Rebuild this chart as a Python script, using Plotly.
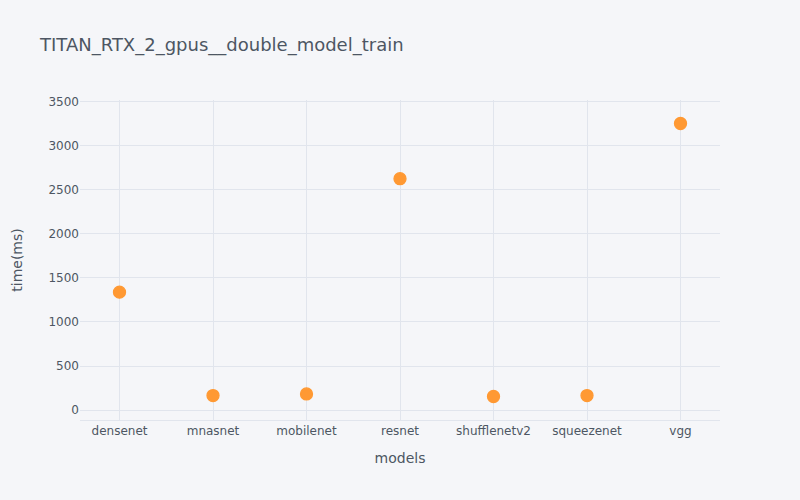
import plotly.graph_objects as go

models = ["densenet", "mnasnet", "mobilenet", "resnet", "shufflenetv2", "squeezenet", "vgg"]
times_ms = [1338, 166, 184, 2624, 155, 166, 3250]

text_color = "#4D5663"
grid_color = "#E1E5ED"
bg = "#F5F6F9"
font_family = "DejaVu Sans, Verdana, sans-serif"

fig = go.Figure()
fig.add_trace(go.Scatter(
    x=models, y=times_ms, mode="markers",
    marker=dict(color="rgba(255, 153, 51, 1.0)", size=12,
                line=dict(width=1.3, color="rgba(255, 153, 51, 1.0)")),
    name="time",
))

fig.update_layout(
    width=800, height=500,
    paper_bgcolor=bg, plot_bgcolor=bg,
    font=dict(family=font_family, color=text_color),
    title=dict(text="TITAN_RTX_2_gpus__double_model_train", x=0.05, y=0.91,
               yanchor="middle", font=dict(size=18, color=text_color)),
    margin=dict(l=80, r=80, t=100, b=80),
    showlegend=False,
    xaxis=dict(title=dict(text="models", font=dict(size=14, color=text_color)),
               tickfont=dict(size=12, color=text_color),
               gridcolor=grid_color, showgrid=True, zerolinecolor=grid_color,
               linecolor=grid_color),
    yaxis=dict(title=dict(text="time(ms)", font=dict(size=14, color=text_color),
                          standoff=22),
               tickfont=dict(size=12, color=text_color),
               gridcolor=grid_color, showgrid=True, zeroline=True,
               zerolinecolor=grid_color, zerolinewidth=1),
)

fig.write_html("out.html", config={"displayModeBar": False},
               post_script="document.body.style.margin='0';")
